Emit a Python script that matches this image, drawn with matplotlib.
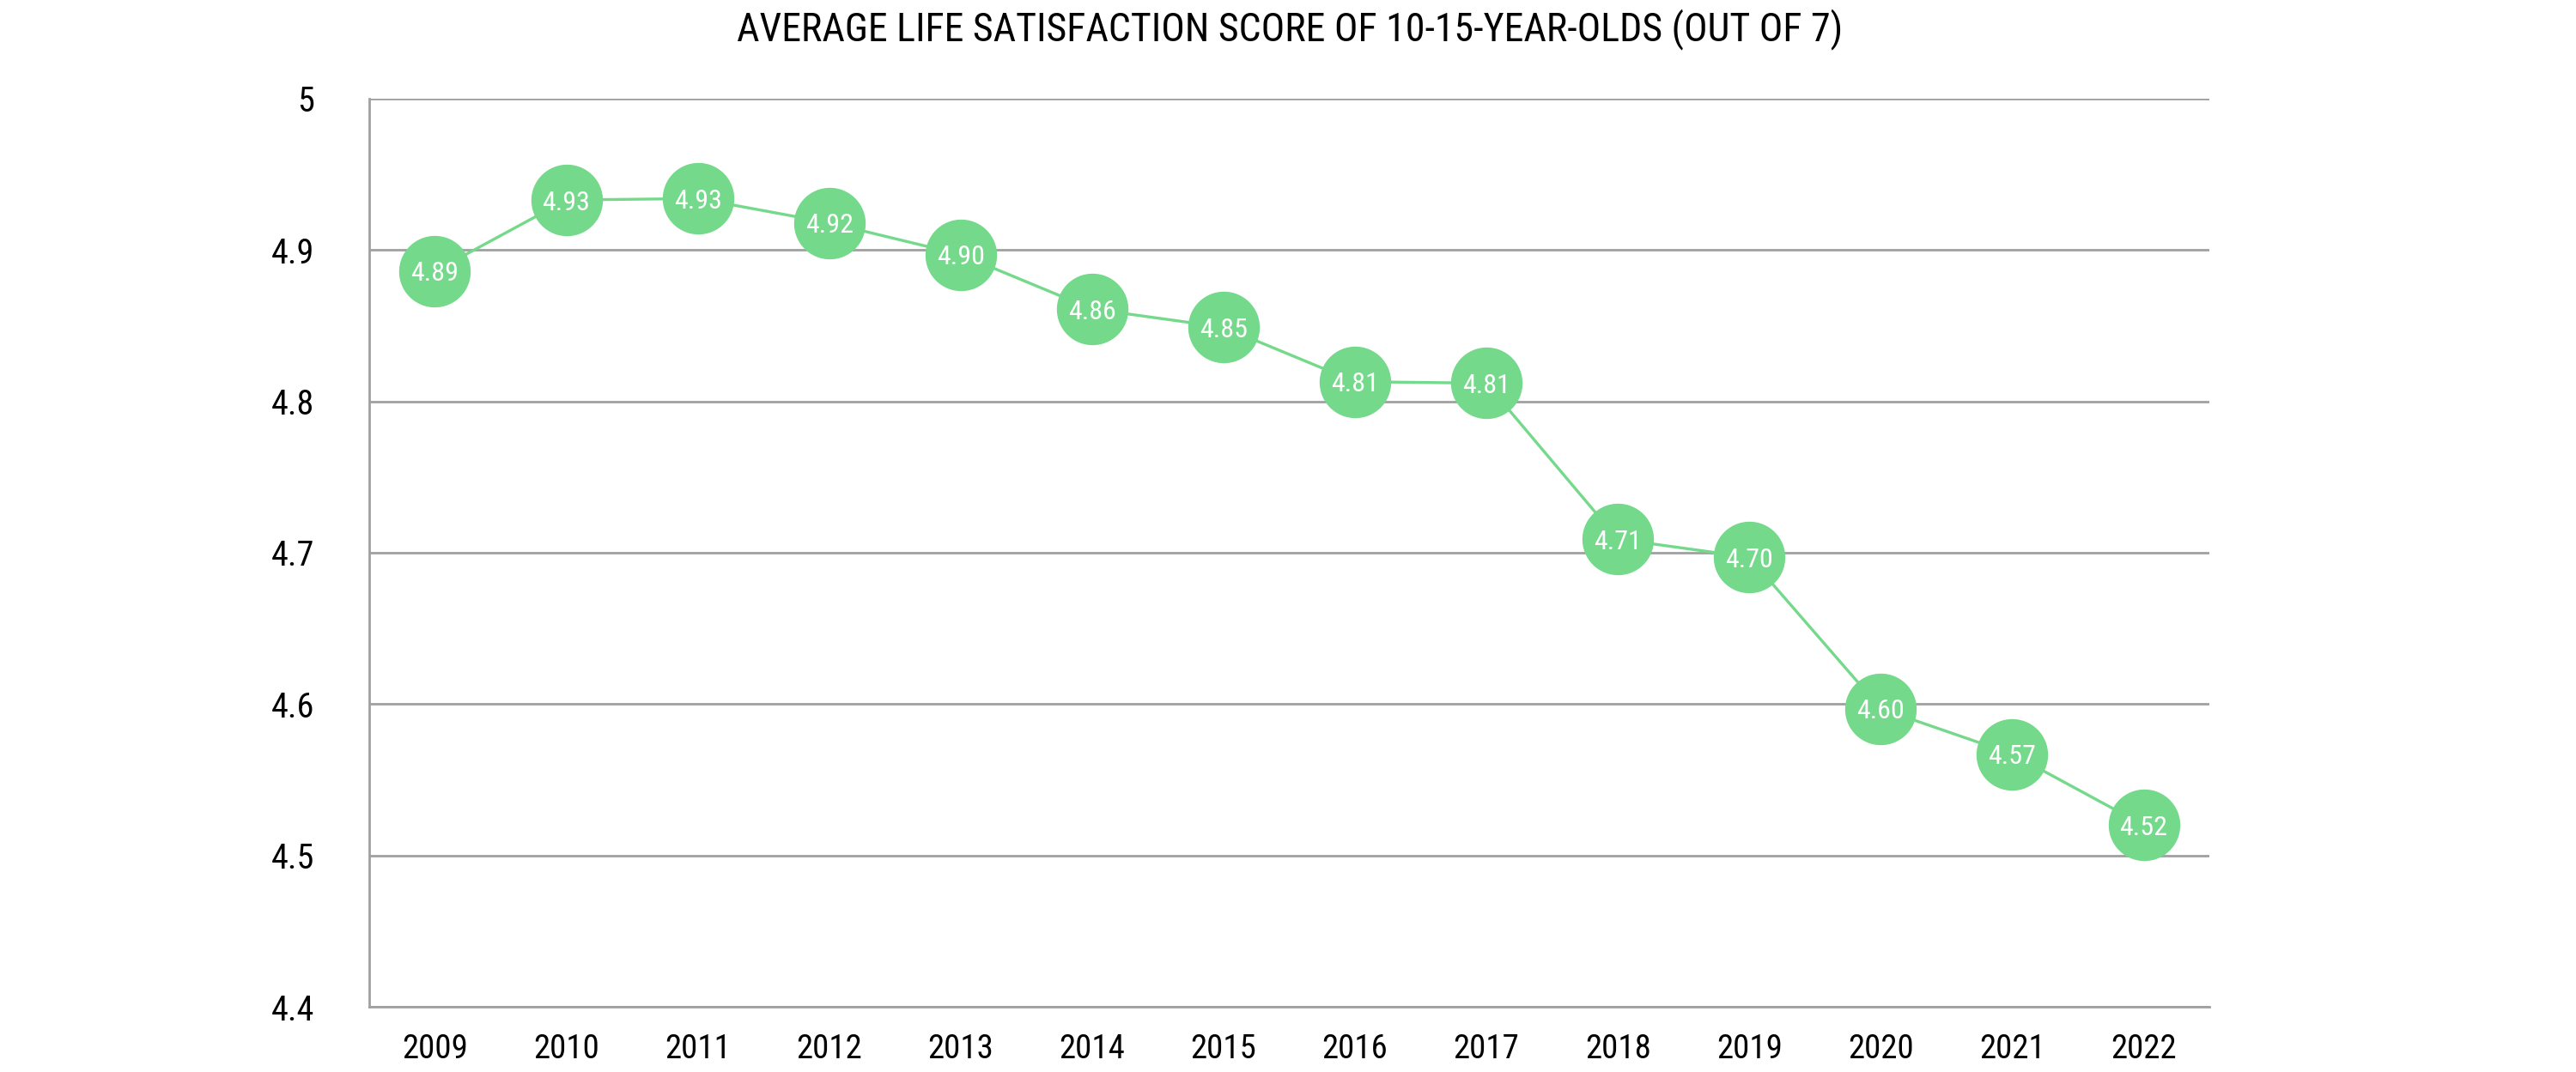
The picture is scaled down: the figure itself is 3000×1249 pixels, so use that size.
import matplotlib
matplotlib.use("Agg")
import matplotlib.pyplot as plt

plt.rcParams["font.family"] = ["Roboto Condensed", "Open Sans Condensed", "DejaVu Sans"]
plt.rcParams["font.stretch"] = "condensed"

#data
years = ["2009", "2010", "2011", "2012", "2013", "2014", "2015",
         "2016", "2017", "2018", "2019", "2020", "2021", "2022"]
scores = [4.886, 4.933, 4.934, 4.918, 4.897, 4.861, 4.849,
          4.813, 4.812, 4.709, 4.697, 4.597, 4.567, 4.520]
yticks = [4.4, 4.5, 4.6, 4.7, 4.8, 4.9, 5.0]
ytick_labels = ["4.4", "4.5", "4.6", "4.7", "4.8", "4.9", "5"]

green = "#74d98a"
grey = "#a0a0a0"

fig = plt.figure(figsize=(30, 12.49), dpi=100)
ax = fig.add_axes([0.1433, 0.0608, 0.7144, 0.8472])

x = list(range(len(years)))
ax.plot(x, scores, color=green, lw=2.4, zorder=3,
        marker="o", markersize=59, markerfacecolor=green, markeredgecolor=green)

for xi, v in zip(x, scores):
    ax.text(xi, v, f"{v:.2f}", color="white", fontsize=23,
            ha="center", va="center_baseline", zorder=4)

ax.set_xlim(-0.5, len(years) - 0.5)
ax.set_ylim(4.4, 5.0)
ax.set_xticks(x)
ax.set_xticklabels(years, fontsize=28)
ax.set_yticks(yticks)
ax.set_yticklabels(ytick_labels, fontsize=29)
ax.tick_params(length=0)
ax.tick_params(axis="y", pad=46)
ax.tick_params(axis="x", pad=22)

ax.grid(axis="y", color=grey, lw=2)
ax.set_axisbelow(True)
for s in ["top", "right"]:
    ax.spines[s].set_visible(False)
for s in ["left", "bottom"]:
    ax.spines[s].set_color(grey)
    ax.spines[s].set_linewidth(2)

fig.text(0.5007, 0.973, "AVERAGE LIFE SATISFACTION SCORE OF 10-15-YEAR-OLDS (OUT OF 7)",
         ha="center", va="center", fontsize=33)

fig.savefig("out.png", dpi=100, facecolor="white")
